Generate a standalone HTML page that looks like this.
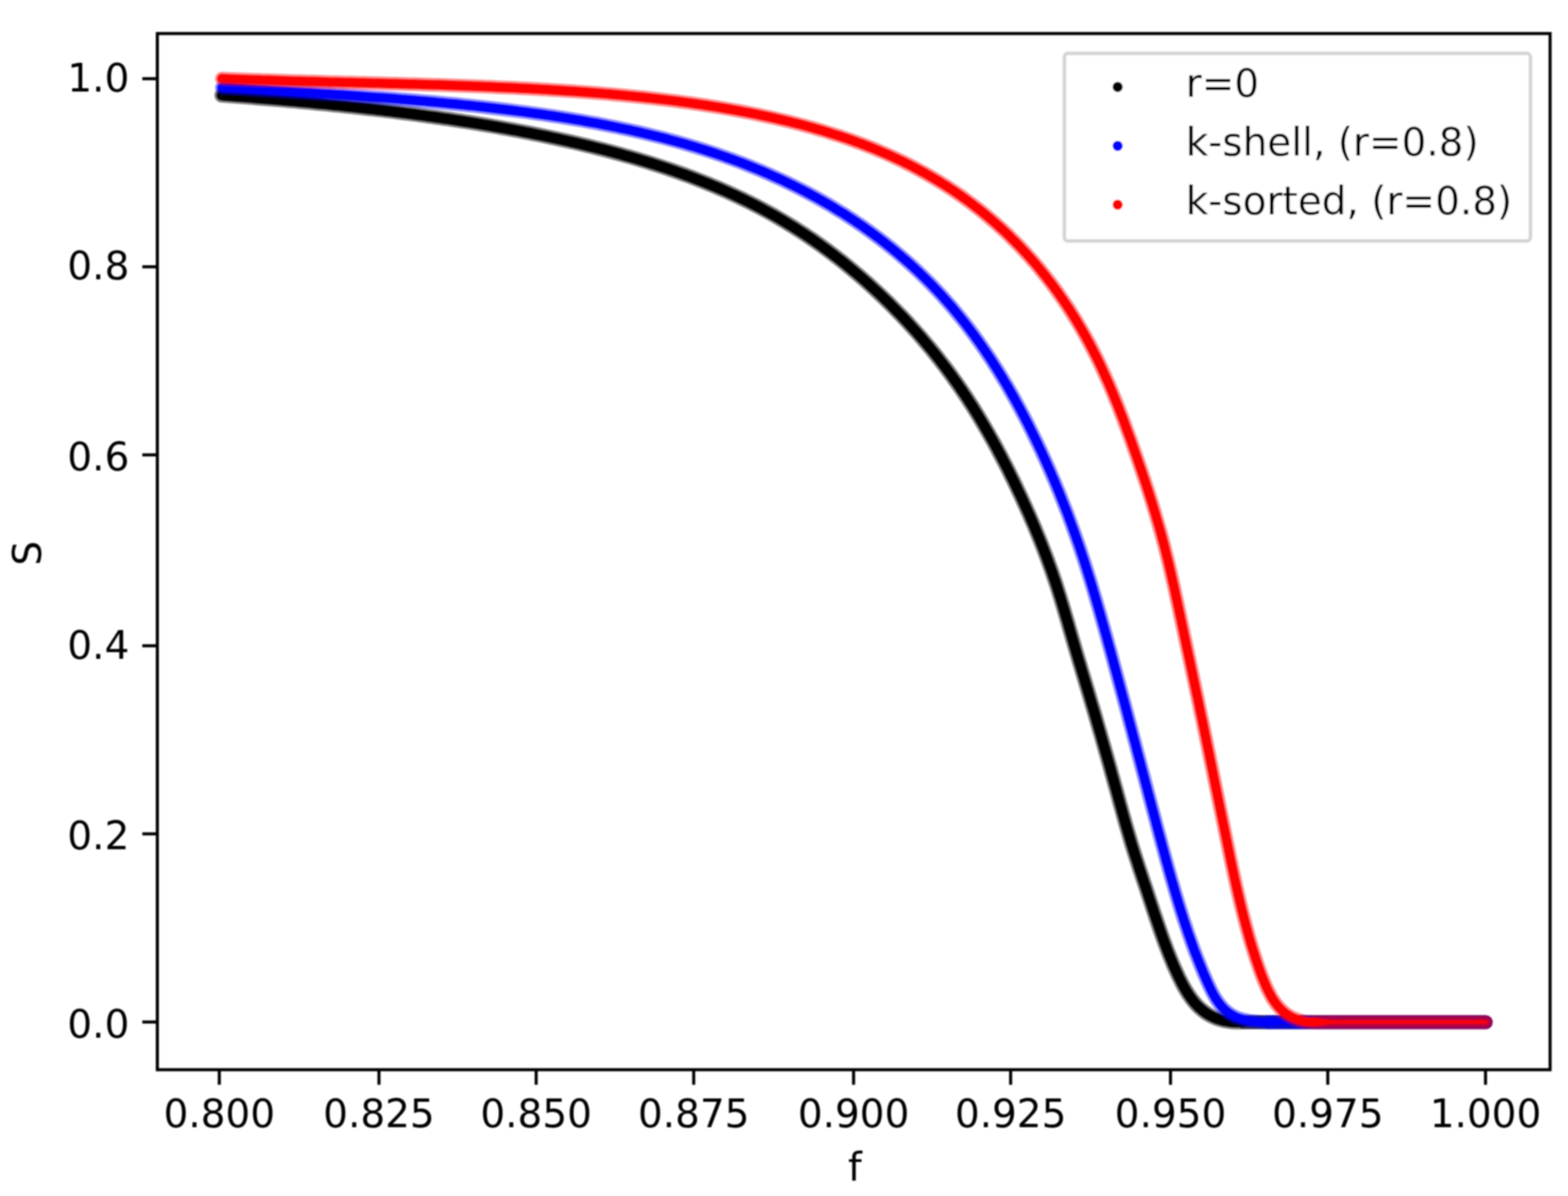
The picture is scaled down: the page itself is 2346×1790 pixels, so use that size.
<!DOCTYPE html>
<html lang="en"><head><meta charset="utf-8"><title>S vs f</title>
<style>
html,body{margin:0;padding:0;background:#fff;}
body{width:2346px;height:1790px;overflow:hidden;}
svg{display:block;}
text{font-family:"DejaVu Sans","Liberation Sans",sans-serif;font-size:58.3px;fill:#000;}
</style></head><body>
<svg width="2346" height="1790" viewBox="0 0 2346 1790">
<defs><filter id="soft" filterUnits="userSpaceOnUse" x="0" y="0" width="2346" height="1790"><feGaussianBlur stdDeviation="0.9"/></filter></defs>
<rect x="0" y="0" width="2346" height="1790" fill="#ffffff"/>
<g id="figure" filter="url(#soft)">
<g id="r0" fill="#000000" stroke="none">
<polyline fill="none" stroke="#000000" stroke-linejoin="round" stroke-width="22.0" stroke-opacity="0.5" points="331.8,142.6 338.4,143.1 344.9,143.6 351.5,144.1 358.1,144.6 364.7,145.1 371.2,145.6 377.8,146.1 384.3,146.7 390.9,147.2 397.4,147.7 403.9,148.3 410.5,148.8 417.0,149.4 423.5,149.9 430.0,150.5 436.5,151.1 443.0,151.6 449.5,152.2 455.9,152.8 462.4,153.4 468.9,154.0 475.3,154.7 481.8,155.3 488.2,155.9 494.6,156.6 501.0,157.2 507.5,157.9 513.9,158.5 520.3,159.2 526.6,159.9 533.0,160.6 539.4,161.3 545.8,162.0 552.1,162.7 558.5,163.4 564.8,164.2 571.1,164.9 577.4,165.7 583.7,166.4 590.0,167.2 596.3,168.0 602.6,168.8 608.9,169.6 615.1,170.4 621.4,171.2 627.6,172.1 633.8,172.9 640.1,173.8 646.3,174.6 652.5,175.5 658.6,176.4 664.8,177.3 671.0,178.2 677.1,179.1 683.3,180.1 689.4,181.0 695.5,182.0 701.6,182.9 707.7,183.9 713.8,184.9 719.8,185.9 725.9,186.9 731.9,187.9 738.0,189.0 744.0,190.0 750.0,191.1 756.0,192.2 762.0,193.3 767.9,194.4 773.9,195.5 779.8,196.6 785.8,197.8 791.7,198.9 797.6,200.1 803.5,201.3 809.3,202.5 815.2,203.7 821.0,204.9 826.9,206.2 832.7,207.4 838.5,208.7 844.3,210.0 850.0,211.3 855.8,212.6 861.5,213.9 867.3,215.2 873.0,216.6 878.7,218.0 884.4,219.4 890.0,220.8 895.7,222.2 901.3,223.6 906.9,225.1 912.5,226.6 918.1,228.1 923.6,229.6 929.2,231.1 934.7,232.7 940.2,234.2 945.7,235.8 951.2,237.4 956.6,239.0 962.0,240.7 967.5,242.3 972.9,244.0 978.2,245.7 983.6,247.4 988.9,249.2 994.2,250.9 999.5,252.7 1004.8,254.5 1010.0,256.3 1015.3,258.2 1020.5,260.0 1025.7,261.9 1030.8,263.8 1036.0,265.7 1041.1,267.7 1046.2,269.7 1051.3,271.7 1056.3,273.7 1061.3,275.7 1066.4,277.8 1071.3,279.9 1076.3,282.0 1081.2,284.1 1086.1,286.3 1091.0,288.5 1095.9,290.7 1100.7,292.9 1105.5,295.2 1110.3,297.5 1115.1,299.8 1119.8,302.1 1124.5,304.5 1129.2,306.8 1133.9,309.3 1138.5,311.7 1143.1,314.2 1147.7,316.7 1152.3,319.2 1156.8,321.7 1161.3,324.3 1165.8,326.9 1170.2,329.5 1174.6,332.1 1179.0,334.8 1183.4,337.5 1187.8,340.2 1192.1,343.0 1196.4,345.7 1200.7,348.5 1205.0,351.3 1209.2,354.2 1213.4,357.0 1217.6,359.9 1221.7,362.8 1225.9,365.7 1230.0,368.7 1234.1,371.7 1238.2,374.7 1242.2,377.7 1246.2,380.7 1250.2,383.8 1254.2,386.9 1258.2,390.0 1262.1,393.1 1266.0,396.3 1269.9,399.5 1273.8,402.7 1277.7,405.9 1281.5,409.1 1285.3,412.4 1289.1,415.7 1292.9,419.0 1296.6,422.3 1300.3,425.6 1304.0,429.0 1307.7,432.4 1311.4,435.8 1315.0,439.2 1318.7,442.7 1322.3,446.1 1325.9,449.6 1329.4,453.1 1333.0,456.6 1336.5,460.2 1340.0,463.7 1343.5,467.3 1347.0,470.9 1350.5,474.5 1353.9,478.1 1357.3,481.8 1360.7,485.5 1364.1,489.2 1367.4,492.9 1370.8,496.6 1374.1,500.4 1377.4,504.1 1380.7,507.9 1383.9,511.8 1387.2,515.6 1390.4,519.4 1393.6,523.3 1396.8,527.2 1399.9,531.1 1403.0,535.1 1406.1,539.0 1409.2,543.0 1412.3,547.0 1415.4,551.0 1418.4,555.1 1421.4,559.1 1424.4,563.2 1427.3,567.3 1430.3,571.5 1433.2,575.6 1436.1,579.8 1439.0,584.0 1441.8,588.2 1444.7,592.5 1447.5,596.7 1450.2,601.0 1453.0,605.3 1455.8,609.6 1458.5,614.0 1461.2,618.3 1463.9,622.7 1466.5,627.1 1469.2,631.6 1471.8,636.0 1474.4,640.5 1477.0,645.0 1479.6,649.5 1482.1,654.0 1484.7,658.5 1487.2,663.1 1489.7,667.6 1492.2,672.2 1494.6,676.8 1497.1,681.5 1499.5,686.1 1501.9,690.8 1504.3,695.4 1506.7,700.1 1509.1,704.8 1511.4,709.5 1513.7,714.3 1516.1,719.0 1518.4,723.8 1520.7,728.6 1522.9,733.4 1525.2,738.2 1527.5,743.0 1529.7,747.8 1531.9,752.7 1534.1,757.5 1536.3,762.4 1538.5,767.3 1540.7,772.2 1542.8,777.1 1545.0,782.1 1547.1,787.0 1549.2,792.0 1551.2,797.0 1553.3,802.0 1555.4,807.0 1557.4,812.1 1559.4,817.1 1561.4,822.2 1563.3,827.3 1565.3,832.4 1567.2,837.6 1569.1,842.8 1571.0,848.0 1572.9,853.2 1574.7,858.4 1576.5,863.7 1578.3,868.9 1580.1,874.2 1581.8,879.6 1583.5,884.9 1585.2,890.3 1586.9,895.7 1588.5,901.1 1590.2,906.6 1591.8,912.0 1593.4,917.5 1595.0,923.0 1596.6,928.4 1598.2,933.9 1599.7,939.4 1601.3,944.9 1602.9,950.4 1604.5,955.9 1606.1,961.4 1607.7,966.8 1609.3,972.3 1610.9,977.8 1612.5,983.2 1614.1,988.7 1615.8,994.1 1617.4,999.5 1619.0,1005.0 1620.6,1010.4 1622.3,1015.9 1623.9,1021.3 1625.5,1026.7 1627.2,1032.2 1628.8,1037.6 1630.4,1043.1 1632.0,1048.5 1633.6,1054.0 1635.3,1059.5 1636.9,1064.9 1638.5,1070.4 1640.1,1075.9 1641.6,1081.4 1643.2,1086.8 1644.8,1092.3 1646.4,1097.8 1648.0,1103.3 1649.5,1108.8 1651.1,1114.3 1652.7,1119.8 1654.2,1125.3 1655.8,1130.8 1657.4,1136.4 1658.9,1141.9 1660.5,1147.4 1662.0,1152.9 1663.5,1158.5 1665.1,1164.0 1666.6,1169.5 1668.1,1175.1 1669.7,1180.6 1671.2,1186.2 1672.7,1191.7 1674.2,1197.3 1675.7,1202.8 1677.3,1208.4 1678.8,1213.9 1680.3,1219.4 1681.9,1225.0 1683.4,1230.5 1685.0,1236.0 1686.6,1241.5 1688.2,1247.0 1689.8,1252.4 1691.4,1257.9 1693.0,1263.3 1694.7,1268.7 1696.4,1274.1 1698.1,1279.5 1699.8,1284.8 1701.6,1290.1 1703.3,1295.5 1705.0,1300.8 1706.8,1306.1 1708.6,1311.4 1710.3,1316.7 1712.1,1322.0 1713.9,1327.3 1715.7,1332.6 1717.4,1337.9 1719.2,1343.2 1720.9,1348.5 1722.7,1353.8 1724.5,1359.2 1726.2,1364.5 1728.0,1369.8 1729.8,1375.1 1731.6,1380.3 1733.4,1385.6 1735.2,1390.9 1737.0,1396.1 1738.9,1401.3 1740.7,1406.5 1742.6,1411.7 1744.6,1416.9 1746.5,1422.0 1748.5,1427.1 1750.5,1432.1 1752.6,1437.1 1754.6,1442.1 1756.8,1447.1 1759.0,1452.0 1761.2,1456.8 1763.4,1461.6 1765.8,1466.4 1768.1,1471.0 1770.6,1475.7 1773.2,1480.2 1775.8,1484.6 1778.6,1488.9 1781.5,1493.1 1784.5,1497.1 1787.7,1501.0 1791.1,1504.7 1794.6,1508.2 1798.4,1511.5 1802.4,1514.6 1806.6,1517.5 1811.0,1520.1 1815.8,1522.4 1820.8,1524.5 1826.1,1526.2 1831.7,1527.7 1837.7,1528.7 1844.1,1529.5 1850.0,1529.8 1856.0,1529.8"/>
<path fill-opacity="0.5" d="M330.96,153.61 A11.00,11.00 0 0 1 332.57,131.66 Z"/>
<polyline fill="none" stroke="#000000" stroke-linejoin="round" stroke-width="15.5" points="331.8,142.6 338.4,143.1 344.9,143.6 351.5,144.1 358.1,144.6 364.7,145.1 371.2,145.6 377.8,146.1 384.3,146.7 390.9,147.2 397.4,147.7 403.9,148.3 410.5,148.8 417.0,149.4 423.5,149.9 430.0,150.5 436.5,151.1 443.0,151.6 449.5,152.2 455.9,152.8 462.4,153.4 468.9,154.0 475.3,154.7 481.8,155.3 488.2,155.9 494.6,156.6 501.0,157.2 507.5,157.9 513.9,158.5 520.3,159.2 526.6,159.9 533.0,160.6 539.4,161.3 545.8,162.0 552.1,162.7 558.5,163.4 564.8,164.2 571.1,164.9 577.4,165.7 583.7,166.4 590.0,167.2 596.3,168.0 602.6,168.8 608.9,169.6 615.1,170.4 621.4,171.2 627.6,172.1 633.8,172.9 640.1,173.8 646.3,174.6 652.5,175.5 658.6,176.4 664.8,177.3 671.0,178.2 677.1,179.1 683.3,180.1 689.4,181.0 695.5,182.0 701.6,182.9 707.7,183.9 713.8,184.9 719.8,185.9 725.9,186.9 731.9,187.9 738.0,189.0 744.0,190.0 750.0,191.1 756.0,192.2 762.0,193.3 767.9,194.4 773.9,195.5 779.8,196.6 785.8,197.8 791.7,198.9 797.6,200.1 803.5,201.3 809.3,202.5 815.2,203.7 821.0,204.9 826.9,206.2 832.7,207.4 838.5,208.7 844.3,210.0 850.0,211.3 855.8,212.6 861.5,213.9 867.3,215.2 873.0,216.6 878.7,218.0 884.4,219.4 890.0,220.8 895.7,222.2 901.3,223.6 906.9,225.1 912.5,226.6 918.1,228.1 923.6,229.6 929.2,231.1 934.7,232.7 940.2,234.2 945.7,235.8 951.2,237.4 956.6,239.0 962.0,240.7 967.5,242.3 972.9,244.0 978.2,245.7 983.6,247.4 988.9,249.2 994.2,250.9 999.5,252.7 1004.8,254.5 1010.0,256.3 1015.3,258.2 1020.5,260.0 1025.7,261.9 1030.8,263.8 1036.0,265.7 1041.1,267.7 1046.2,269.7 1051.3,271.7 1056.3,273.7 1061.3,275.7 1066.4,277.8 1071.3,279.9 1076.3,282.0 1081.2,284.1 1086.1,286.3 1091.0,288.5 1095.9,290.7 1100.7,292.9 1105.5,295.2 1110.3,297.5 1115.1,299.8 1119.8,302.1 1124.5,304.5 1129.2,306.8 1133.9,309.3 1138.5,311.7 1143.1,314.2 1147.7,316.7 1152.3,319.2 1156.8,321.7 1161.3,324.3 1165.8,326.9 1170.2,329.5 1174.6,332.1 1179.0,334.8 1183.4,337.5 1187.8,340.2 1192.1,343.0 1196.4,345.7 1200.7,348.5 1205.0,351.3 1209.2,354.2 1213.4,357.0 1217.6,359.9 1221.7,362.8 1225.9,365.7 1230.0,368.7 1234.1,371.7 1238.2,374.7 1242.2,377.7 1246.2,380.7 1250.2,383.8 1254.2,386.9 1258.2,390.0 1262.1,393.1 1266.0,396.3 1269.9,399.5 1273.8,402.7 1277.7,405.9 1281.5,409.1 1285.3,412.4 1289.1,415.7 1292.9,419.0 1296.6,422.3 1300.3,425.6 1304.0,429.0 1307.7,432.4 1311.4,435.8 1315.0,439.2 1318.7,442.7 1322.3,446.1 1325.9,449.6 1329.4,453.1 1333.0,456.6 1336.5,460.2 1340.0,463.7 1343.5,467.3 1347.0,470.9 1350.5,474.5 1353.9,478.1 1357.3,481.8 1360.7,485.5 1364.1,489.2 1367.4,492.9 1370.8,496.6 1374.1,500.4 1377.4,504.1 1380.7,507.9 1383.9,511.8 1387.2,515.6 1390.4,519.4 1393.6,523.3 1396.8,527.2 1399.9,531.1 1403.0,535.1 1406.1,539.0 1409.2,543.0 1412.3,547.0 1415.4,551.0 1418.4,555.1 1421.4,559.1 1424.4,563.2 1427.3,567.3 1430.3,571.5 1433.2,575.6 1436.1,579.8 1439.0,584.0 1441.8,588.2 1444.7,592.5 1447.5,596.7 1450.2,601.0 1453.0,605.3 1455.8,609.6 1458.5,614.0 1461.2,618.3 1463.9,622.7 1466.5,627.1 1469.2,631.6 1471.8,636.0 1474.4,640.5 1477.0,645.0 1479.6,649.5 1482.1,654.0 1484.7,658.5 1487.2,663.1 1489.7,667.6 1492.2,672.2 1494.6,676.8 1497.1,681.5 1499.5,686.1 1501.9,690.8 1504.3,695.4 1506.7,700.1 1509.1,704.8 1511.4,709.5 1513.7,714.3 1516.1,719.0 1518.4,723.8 1520.7,728.6 1522.9,733.4 1525.2,738.2 1527.5,743.0 1529.7,747.8 1531.9,752.7 1534.1,757.5 1536.3,762.4 1538.5,767.3 1540.7,772.2 1542.8,777.1 1545.0,782.1 1547.1,787.0 1549.2,792.0 1551.2,797.0 1553.3,802.0 1555.4,807.0 1557.4,812.1 1559.4,817.1 1561.4,822.2 1563.3,827.3 1565.3,832.4 1567.2,837.6 1569.1,842.8 1571.0,848.0 1572.9,853.2 1574.7,858.4 1576.5,863.7 1578.3,868.9 1580.1,874.2 1581.8,879.6 1583.5,884.9 1585.2,890.3 1586.9,895.7 1588.5,901.1 1590.2,906.6 1591.8,912.0 1593.4,917.5 1595.0,923.0 1596.6,928.4 1598.2,933.9 1599.7,939.4 1601.3,944.9 1602.9,950.4 1604.5,955.9 1606.1,961.4 1607.7,966.8 1609.3,972.3 1610.9,977.8 1612.5,983.2 1614.1,988.7 1615.8,994.1 1617.4,999.5 1619.0,1005.0 1620.6,1010.4 1622.3,1015.9 1623.9,1021.3 1625.5,1026.7 1627.2,1032.2 1628.8,1037.6 1630.4,1043.1 1632.0,1048.5 1633.6,1054.0 1635.3,1059.5 1636.9,1064.9 1638.5,1070.4 1640.1,1075.9 1641.6,1081.4 1643.2,1086.8 1644.8,1092.3 1646.4,1097.8 1648.0,1103.3 1649.5,1108.8 1651.1,1114.3 1652.7,1119.8 1654.2,1125.3 1655.8,1130.8 1657.4,1136.4 1658.9,1141.9 1660.5,1147.4 1662.0,1152.9 1663.5,1158.5 1665.1,1164.0 1666.6,1169.5 1668.1,1175.1 1669.7,1180.6 1671.2,1186.2 1672.7,1191.7 1674.2,1197.3 1675.7,1202.8 1677.3,1208.4 1678.8,1213.9 1680.3,1219.4 1681.9,1225.0 1683.4,1230.5 1685.0,1236.0 1686.6,1241.5 1688.2,1247.0 1689.8,1252.4 1691.4,1257.9 1693.0,1263.3 1694.7,1268.7 1696.4,1274.1 1698.1,1279.5 1699.8,1284.8 1701.6,1290.1 1703.3,1295.5 1705.0,1300.8 1706.8,1306.1 1708.6,1311.4 1710.3,1316.7 1712.1,1322.0 1713.9,1327.3 1715.7,1332.6 1717.4,1337.9 1719.2,1343.2 1720.9,1348.5 1722.7,1353.8 1724.5,1359.2 1726.2,1364.5 1728.0,1369.8 1729.8,1375.1 1731.6,1380.3 1733.4,1385.6 1735.2,1390.9 1737.0,1396.1 1738.9,1401.3 1740.7,1406.5 1742.6,1411.7 1744.6,1416.9 1746.5,1422.0 1748.5,1427.1 1750.5,1432.1 1752.6,1437.1 1754.6,1442.1 1756.8,1447.1 1759.0,1452.0 1761.2,1456.8 1763.4,1461.6 1765.8,1466.4 1768.1,1471.0 1770.6,1475.7 1773.2,1480.2 1775.8,1484.6 1778.6,1488.9 1781.5,1493.1 1784.5,1497.1 1787.7,1501.0 1791.1,1504.7 1794.6,1508.2 1798.4,1511.5 1802.4,1514.6 1806.6,1517.5 1811.0,1520.1 1815.8,1522.4 1820.8,1524.5 1826.1,1526.2 1831.7,1527.7 1837.7,1528.7 1844.1,1529.5 1850.0,1529.8 1856.0,1529.8"/>
<path d="M331.20,150.36 A7.75,7.75 0 0 1 332.33,134.91 Z"/>
<path fill-opacity="0.8" d="M1856.0,1519.40 L2223.0,1519.40 A10.40,10.40 0 0 1 2223.0,1540.20 L1856.0,1540.20 Z"/>
<path fill-opacity="0.45" d="M1856.0,1523.50 L2223.0,1523.50 A6.30,6.30 0 0 1 2223.0,1536.10 L1856.0,1536.10 Z"/>
<path d="M1856.0,1522.05 L1884.0,1527.60 L2223.0,1527.60 A2.20,2.20 0 0 1 2223.0,1532.00 L1884.0,1532.00 L1856.0,1537.55 Z"/>
</g>
<g id="kshell" fill="#0000ff" stroke="none">
<polyline fill="none" stroke="#0000ff" stroke-linejoin="round" stroke-width="20.5" stroke-opacity="0.45" points="331.8,131.0 338.5,131.4 345.2,131.8 351.8,132.2 358.5,132.6 365.2,133.0 371.8,133.4 378.5,133.8 385.2,134.2 391.8,134.6 398.5,135.0 405.2,135.4 411.8,135.8 418.5,136.2 425.2,136.6 431.8,137.1 438.5,137.5 445.1,137.9 451.8,138.3 458.4,138.7 465.1,139.1 471.7,139.5 478.4,140.0 485.0,140.4 491.7,140.8 498.3,141.3 504.9,141.7 511.6,142.1 518.2,142.6 524.8,143.0 531.4,143.5 538.0,144.0 544.7,144.4 551.3,144.9 557.8,145.4 564.4,145.9 571.0,146.3 577.6,146.8 584.2,147.3 590.7,147.8 597.3,148.4 603.8,148.9 610.4,149.4 616.9,150.0 623.4,150.5 629.9,151.1 636.4,151.6 642.9,152.2 649.4,152.8 655.9,153.4 662.4,154.0 668.9,154.6 675.3,155.2 681.7,155.8 688.2,156.5 694.6,157.1 701.0,157.8 707.4,158.4 713.8,159.1 720.2,159.8 726.5,160.5 732.9,161.2 739.2,162.0 745.6,162.7 751.9,163.5 758.2,164.2 764.5,165.0 770.8,165.8 777.0,166.6 783.3,167.4 789.5,168.2 795.8,169.1 802.0,170.0 808.2,170.8 814.3,171.7 820.5,172.6 826.7,173.5 832.8,174.5 838.9,175.4 845.0,176.4 851.1,177.4 857.2,178.4 863.2,179.4 869.3,180.4 875.3,181.5 881.3,182.6 887.3,183.6 893.2,184.7 899.2,185.9 905.1,187.0 911.0,188.2 916.9,189.3 922.8,190.5 928.7,191.8 934.5,193.0 940.3,194.2 946.1,195.5 951.9,196.8 957.6,198.1 963.4,199.5 969.1,200.8 974.8,202.2 980.5,203.6 986.1,205.0 991.7,206.4 997.4,207.9 1002.9,209.4 1008.5,210.9 1014.0,212.4 1019.6,214.0 1025.1,215.6 1030.5,217.2 1036.0,218.8 1041.4,220.4 1046.8,222.1 1052.2,223.8 1057.6,225.5 1062.9,227.2 1068.2,229.0 1073.5,230.8 1078.7,232.6 1084.0,234.4 1089.2,236.3 1094.4,238.2 1099.6,240.1 1104.7,242.0 1109.8,243.9 1114.9,245.9 1120.0,247.9 1125.0,249.9 1130.1,252.0 1135.1,254.1 1140.0,256.1 1145.0,258.3 1149.9,260.4 1154.8,262.6 1159.7,264.8 1164.6,267.0 1169.4,269.2 1174.2,271.5 1179.0,273.8 1183.7,276.1 1188.5,278.4 1193.2,280.8 1197.9,283.2 1202.5,285.6 1207.2,288.0 1211.8,290.5 1216.4,292.9 1221.0,295.4 1225.5,298.0 1230.0,300.5 1234.5,303.1 1239.0,305.7 1243.4,308.3 1247.8,311.0 1252.2,313.7 1256.6,316.4 1261.0,319.1 1265.3,321.8 1269.6,324.6 1273.8,327.4 1278.1,330.2 1282.3,333.1 1286.5,335.9 1290.7,338.8 1294.8,341.8 1299.0,344.7 1303.1,347.7 1307.1,350.7 1311.2,353.7 1315.2,356.7 1319.2,359.8 1323.2,362.9 1327.1,366.0 1331.1,369.2 1335.0,372.3 1338.8,375.5 1342.7,378.8 1346.5,382.0 1350.3,385.3 1354.1,388.6 1357.8,391.9 1361.6,395.2 1365.3,398.6 1368.9,402.0 1372.6,405.4 1376.2,408.9 1379.8,412.4 1383.4,415.8 1386.9,419.4 1390.5,422.9 1394.0,426.5 1397.4,430.1 1400.9,433.7 1404.3,437.4 1407.7,441.0 1411.1,444.7 1414.4,448.5 1417.7,452.2 1421.0,456.0 1424.3,459.8 1427.5,463.6 1430.7,467.5 1433.9,471.4 1437.1,475.3 1440.2,479.2 1443.4,483.2 1446.4,487.1 1449.5,491.1 1452.6,495.2 1455.6,499.2 1458.6,503.3 1461.5,507.4 1464.5,511.5 1467.4,515.7 1470.3,519.8 1473.2,524.0 1476.0,528.2 1478.9,532.5 1481.7,536.7 1484.5,541.0 1487.2,545.3 1490.0,549.7 1492.7,554.0 1495.4,558.4 1498.1,562.7 1500.8,567.2 1503.4,571.6 1506.1,576.0 1508.7,580.5 1511.2,585.0 1513.8,589.5 1516.4,594.0 1518.9,598.5 1521.4,603.1 1523.9,607.7 1526.4,612.3 1528.8,616.9 1531.3,621.5 1533.7,626.2 1536.1,630.9 1538.5,635.5 1540.8,640.2 1543.2,645.0 1545.5,649.7 1547.8,654.4 1550.1,659.2 1552.4,664.0 1554.7,668.8 1557.0,673.6 1559.2,678.4 1561.4,683.3 1563.6,688.1 1565.8,693.0 1568.0,697.9 1570.2,702.8 1572.3,707.7 1574.4,712.7 1576.6,717.6 1578.7,722.6 1580.7,727.6 1582.8,732.6 1584.9,737.6 1586.9,742.7 1588.9,747.7 1590.9,752.8 1592.9,757.9 1594.9,763.0 1596.9,768.1 1598.8,773.2 1600.7,778.3 1602.6,783.5 1604.5,788.7 1606.4,793.9 1608.3,799.1 1610.1,804.3 1611.9,809.5 1613.8,814.8 1615.6,820.1 1617.3,825.3 1619.1,830.7 1620.9,836.0 1622.6,841.3 1624.3,846.7 1626.0,852.0 1627.7,857.4 1629.4,862.8 1631.1,868.2 1632.7,873.6 1634.4,879.0 1636.0,884.5 1637.6,889.9 1639.2,895.4 1640.8,900.9 1642.4,906.4 1644.0,911.8 1645.6,917.3 1647.1,922.8 1648.7,928.4 1650.2,933.9 1651.8,939.4 1653.3,944.9 1654.9,950.5 1656.4,956.0 1657.9,961.6 1659.4,967.1 1661.0,972.6 1662.5,978.2 1664.0,983.8 1665.5,989.3 1667.0,994.9 1668.5,1000.4 1670.0,1006.0 1671.5,1011.6 1673.0,1017.1 1674.5,1022.7 1676.0,1028.3 1677.5,1033.9 1679.0,1039.4 1680.5,1045.0 1682.0,1050.6 1683.5,1056.2 1685.0,1061.8 1686.5,1067.4 1687.9,1072.9 1689.4,1078.5 1690.9,1084.1 1692.4,1089.7 1693.9,1095.3 1695.3,1100.9 1696.8,1106.5 1698.3,1112.1 1699.8,1117.7 1701.2,1123.3 1702.7,1128.9 1704.2,1134.5 1705.7,1140.1 1707.1,1145.7 1708.6,1151.3 1710.1,1156.9 1711.6,1162.5 1713.0,1168.1 1714.5,1173.7 1716.0,1179.3 1717.4,1184.9 1718.9,1190.5 1720.4,1196.1 1721.9,1201.7 1723.3,1207.3 1724.8,1212.8 1726.3,1218.4 1727.8,1224.0 1729.3,1229.6 1730.7,1235.2 1732.2,1240.8 1733.7,1246.4 1735.2,1252.0 1736.7,1257.6 1738.2,1263.1 1739.7,1268.7 1741.2,1274.3 1742.7,1279.8 1744.2,1285.4 1745.7,1290.9 1747.3,1296.5 1748.8,1302.0 1750.4,1307.5 1751.9,1313.0 1753.5,1318.5 1755.1,1324.0 1756.7,1329.5 1758.3,1335.0 1759.9,1340.4 1761.5,1345.9 1763.2,1351.3 1764.8,1356.7 1766.5,1362.1 1768.2,1367.5 1769.9,1372.8 1771.6,1378.2 1773.4,1383.5 1775.2,1388.8 1776.9,1394.1 1778.7,1399.3 1780.6,1404.6 1782.4,1409.8 1784.3,1415.0 1786.2,1420.2 1788.1,1425.3 1790.1,1430.4 1792.1,1435.5 1794.1,1440.6 1796.1,1445.6 1798.2,1450.6 1800.2,1455.6 1802.4,1460.6 1804.5,1465.5 1806.7,1470.4 1808.9,1475.3 1811.2,1480.1 1813.5,1484.8 1816.0,1489.4 1818.6,1493.8 1821.4,1498.1 1824.4,1502.2 1827.6,1506.1 1831.0,1509.8 1834.6,1513.1 1838.6,1516.3 1842.9,1519.0 1847.5,1521.5 1852.5,1523.6 1857.8,1525.3 1863.5,1526.7 1869.5,1527.8 1875.8,1528.6 1882.2,1529.3 1888.0,1529.8 1894.0,1529.8"/>
<path fill-opacity="0.45" d="M331.21,141.19 A10.25,10.25 0 0 1 332.47,120.73 Z"/>
<polyline fill="none" stroke="#0000ff" stroke-linejoin="round" stroke-width="13.5" points="331.8,131.0 338.5,131.4 345.2,131.8 351.8,132.2 358.5,132.6 365.2,133.0 371.8,133.4 378.5,133.8 385.2,134.2 391.8,134.6 398.5,135.0 405.2,135.4 411.8,135.8 418.5,136.2 425.2,136.6 431.8,137.1 438.5,137.5 445.1,137.9 451.8,138.3 458.4,138.7 465.1,139.1 471.7,139.5 478.4,140.0 485.0,140.4 491.7,140.8 498.3,141.3 504.9,141.7 511.6,142.1 518.2,142.6 524.8,143.0 531.4,143.5 538.0,144.0 544.7,144.4 551.3,144.9 557.8,145.4 564.4,145.9 571.0,146.3 577.6,146.8 584.2,147.3 590.7,147.8 597.3,148.4 603.8,148.9 610.4,149.4 616.9,150.0 623.4,150.5 629.9,151.1 636.4,151.6 642.9,152.2 649.4,152.8 655.9,153.4 662.4,154.0 668.9,154.6 675.3,155.2 681.7,155.8 688.2,156.5 694.6,157.1 701.0,157.8 707.4,158.4 713.8,159.1 720.2,159.8 726.5,160.5 732.9,161.2 739.2,162.0 745.6,162.7 751.9,163.5 758.2,164.2 764.5,165.0 770.8,165.8 777.0,166.6 783.3,167.4 789.5,168.2 795.8,169.1 802.0,170.0 808.2,170.8 814.3,171.7 820.5,172.6 826.7,173.5 832.8,174.5 838.9,175.4 845.0,176.4 851.1,177.4 857.2,178.4 863.2,179.4 869.3,180.4 875.3,181.5 881.3,182.6 887.3,183.6 893.2,184.7 899.2,185.9 905.1,187.0 911.0,188.2 916.9,189.3 922.8,190.5 928.7,191.8 934.5,193.0 940.3,194.2 946.1,195.5 951.9,196.8 957.6,198.1 963.4,199.5 969.1,200.8 974.8,202.2 980.5,203.6 986.1,205.0 991.7,206.4 997.4,207.9 1002.9,209.4 1008.5,210.9 1014.0,212.4 1019.6,214.0 1025.1,215.6 1030.5,217.2 1036.0,218.8 1041.4,220.4 1046.8,222.1 1052.2,223.8 1057.6,225.5 1062.9,227.2 1068.2,229.0 1073.5,230.8 1078.7,232.6 1084.0,234.4 1089.2,236.3 1094.4,238.2 1099.6,240.1 1104.7,242.0 1109.8,243.9 1114.9,245.9 1120.0,247.9 1125.0,249.9 1130.1,252.0 1135.1,254.1 1140.0,256.1 1145.0,258.3 1149.9,260.4 1154.8,262.6 1159.7,264.8 1164.6,267.0 1169.4,269.2 1174.2,271.5 1179.0,273.8 1183.7,276.1 1188.5,278.4 1193.2,280.8 1197.9,283.2 1202.5,285.6 1207.2,288.0 1211.8,290.5 1216.4,292.9 1221.0,295.4 1225.5,298.0 1230.0,300.5 1234.5,303.1 1239.0,305.7 1243.4,308.3 1247.8,311.0 1252.2,313.7 1256.6,316.4 1261.0,319.1 1265.3,321.8 1269.6,324.6 1273.8,327.4 1278.1,330.2 1282.3,333.1 1286.5,335.9 1290.7,338.8 1294.8,341.8 1299.0,344.7 1303.1,347.7 1307.1,350.7 1311.2,353.7 1315.2,356.7 1319.2,359.8 1323.2,362.9 1327.1,366.0 1331.1,369.2 1335.0,372.3 1338.8,375.5 1342.7,378.8 1346.5,382.0 1350.3,385.3 1354.1,388.6 1357.8,391.9 1361.6,395.2 1365.3,398.6 1368.9,402.0 1372.6,405.4 1376.2,408.9 1379.8,412.4 1383.4,415.8 1386.9,419.4 1390.5,422.9 1394.0,426.5 1397.4,430.1 1400.9,433.7 1404.3,437.4 1407.7,441.0 1411.1,444.7 1414.4,448.5 1417.7,452.2 1421.0,456.0 1424.3,459.8 1427.5,463.6 1430.7,467.5 1433.9,471.4 1437.1,475.3 1440.2,479.2 1443.4,483.2 1446.4,487.1 1449.5,491.1 1452.6,495.2 1455.6,499.2 1458.6,503.3 1461.5,507.4 1464.5,511.5 1467.4,515.7 1470.3,519.8 1473.2,524.0 1476.0,528.2 1478.9,532.5 1481.7,536.7 1484.5,541.0 1487.2,545.3 1490.0,549.7 1492.7,554.0 1495.4,558.4 1498.1,562.7 1500.8,567.2 1503.4,571.6 1506.1,576.0 1508.7,580.5 1511.2,585.0 1513.8,589.5 1516.4,594.0 1518.9,598.5 1521.4,603.1 1523.9,607.7 1526.4,612.3 1528.8,616.9 1531.3,621.5 1533.7,626.2 1536.1,630.9 1538.5,635.5 1540.8,640.2 1543.2,645.0 1545.5,649.7 1547.8,654.4 1550.1,659.2 1552.4,664.0 1554.7,668.8 1557.0,673.6 1559.2,678.4 1561.4,683.3 1563.6,688.1 1565.8,693.0 1568.0,697.9 1570.2,702.8 1572.3,707.7 1574.4,712.7 1576.6,717.6 1578.7,722.6 1580.7,727.6 1582.8,732.6 1584.9,737.6 1586.9,742.7 1588.9,747.7 1590.9,752.8 1592.9,757.9 1594.9,763.0 1596.9,768.1 1598.8,773.2 1600.7,778.3 1602.6,783.5 1604.5,788.7 1606.4,793.9 1608.3,799.1 1610.1,804.3 1611.9,809.5 1613.8,814.8 1615.6,820.1 1617.3,825.3 1619.1,830.7 1620.9,836.0 1622.6,841.3 1624.3,846.7 1626.0,852.0 1627.7,857.4 1629.4,862.8 1631.1,868.2 1632.7,873.6 1634.4,879.0 1636.0,884.5 1637.6,889.9 1639.2,895.4 1640.8,900.9 1642.4,906.4 1644.0,911.8 1645.6,917.3 1647.1,922.8 1648.7,928.4 1650.2,933.9 1651.8,939.4 1653.3,944.9 1654.9,950.5 1656.4,956.0 1657.9,961.6 1659.4,967.1 1661.0,972.6 1662.5,978.2 1664.0,983.8 1665.5,989.3 1667.0,994.9 1668.5,1000.4 1670.0,1006.0 1671.5,1011.6 1673.0,1017.1 1674.5,1022.7 1676.0,1028.3 1677.5,1033.9 1679.0,1039.4 1680.5,1045.0 1682.0,1050.6 1683.5,1056.2 1685.0,1061.8 1686.5,1067.4 1687.9,1072.9 1689.4,1078.5 1690.9,1084.1 1692.4,1089.7 1693.9,1095.3 1695.3,1100.9 1696.8,1106.5 1698.3,1112.1 1699.8,1117.7 1701.2,1123.3 1702.7,1128.9 1704.2,1134.5 1705.7,1140.1 1707.1,1145.7 1708.6,1151.3 1710.1,1156.9 1711.6,1162.5 1713.0,1168.1 1714.5,1173.7 1716.0,1179.3 1717.4,1184.9 1718.9,1190.5 1720.4,1196.1 1721.9,1201.7 1723.3,1207.3 1724.8,1212.8 1726.3,1218.4 1727.8,1224.0 1729.3,1229.6 1730.7,1235.2 1732.2,1240.8 1733.7,1246.4 1735.2,1252.0 1736.7,1257.6 1738.2,1263.1 1739.7,1268.7 1741.2,1274.3 1742.7,1279.8 1744.2,1285.4 1745.7,1290.9 1747.3,1296.5 1748.8,1302.0 1750.4,1307.5 1751.9,1313.0 1753.5,1318.5 1755.1,1324.0 1756.7,1329.5 1758.3,1335.0 1759.9,1340.4 1761.5,1345.9 1763.2,1351.3 1764.8,1356.7 1766.5,1362.1 1768.2,1367.5 1769.9,1372.8 1771.6,1378.2 1773.4,1383.5 1775.2,1388.8 1776.9,1394.1 1778.7,1399.3 1780.6,1404.6 1782.4,1409.8 1784.3,1415.0 1786.2,1420.2 1788.1,1425.3 1790.1,1430.4 1792.1,1435.5 1794.1,1440.6 1796.1,1445.6 1798.2,1450.6 1800.2,1455.6 1802.4,1460.6 1804.5,1465.5 1806.7,1470.4 1808.9,1475.3 1811.2,1480.1 1813.5,1484.8 1816.0,1489.4 1818.6,1493.8 1821.4,1498.1 1824.4,1502.2 1827.6,1506.1 1831.0,1509.8 1834.6,1513.1 1838.6,1516.3 1842.9,1519.0 1847.5,1521.5 1852.5,1523.6 1857.8,1525.3 1863.5,1526.7 1869.5,1527.8 1875.8,1528.6 1882.2,1529.3 1888.0,1529.8 1894.0,1529.8"/>
<path d="M331.43,137.70 A6.75,6.75 0 0 1 332.26,124.22 Z"/>
<path fill-opacity="0.75" d="M1894.0,1519.40 L2223.0,1519.40 A10.40,10.40 0 0 1 2223.0,1540.20 L1894.0,1540.20 Z"/>
<path fill-opacity="0.45" d="M1894.0,1523.50 L2223.0,1523.50 A6.30,6.30 0 0 1 2223.0,1536.10 L1894.0,1536.10 Z"/>
<path d="M1894.0,1523.05 L1922.0,1527.60 L2223.0,1527.60 A2.20,2.20 0 0 1 2223.0,1532.00 L1922.0,1532.00 L1894.0,1536.55 Z"/>
</g>
<g id="ksorted" fill="#ff0000" stroke="none">
<polyline fill="none" stroke="#ff0000" stroke-linejoin="round" stroke-width="20.5" stroke-opacity="0.45" points="331.8,117.6 338.6,117.9 345.4,118.2 352.2,118.4 359.0,118.7 365.8,118.9 372.7,119.2 379.5,119.4 386.3,119.6 393.2,119.9 400.0,120.1 406.9,120.3 413.7,120.5 420.6,120.7 427.4,121.0 434.3,121.2 441.2,121.4 448.1,121.5 454.9,121.7 461.8,121.9 468.7,122.1 475.6,122.3 482.5,122.5 489.4,122.7 496.3,122.9 503.1,123.0 510.0,123.2 516.9,123.4 523.8,123.6 530.7,123.7 537.6,123.9 544.5,124.1 551.4,124.3 558.3,124.4 565.2,124.6 572.1,124.8 579.0,125.0 585.9,125.2 592.8,125.3 599.6,125.5 606.5,125.7 613.4,125.9 620.3,126.1 627.2,126.3 634.0,126.5 640.9,126.7 647.8,126.9 654.6,127.1 661.5,127.3 668.3,127.6 675.2,127.8 682.0,128.0 688.8,128.3 695.7,128.5 702.5,128.7 709.3,129.0 716.1,129.3 722.9,129.5 729.7,129.8 736.5,130.1 743.3,130.4 750.1,130.7 756.8,131.0 763.6,131.3 770.4,131.6 777.1,131.9 783.8,132.3 790.6,132.6 797.3,133.0 804.0,133.3 810.7,133.7 817.4,134.1 824.0,134.5 830.7,134.9 837.4,135.3 844.0,135.7 850.6,136.2 857.3,136.6 863.9,137.1 870.5,137.5 877.1,138.0 883.6,138.5 890.2,139.0 896.7,139.5 903.3,140.1 909.8,140.6 916.3,141.2 922.8,141.8 929.3,142.4 935.8,143.0 942.2,143.6 948.6,144.2 955.1,144.9 961.5,145.5 967.9,146.2 974.2,146.9 980.6,147.6 986.9,148.4 993.3,149.1 999.6,149.9 1005.9,150.6 1012.1,151.4 1018.4,152.3 1024.6,153.1 1030.8,153.9 1037.0,154.8 1043.2,155.7 1049.4,156.6 1055.5,157.5 1061.7,158.5 1067.8,159.4 1073.9,160.4 1079.9,161.4 1086.0,162.5 1092.0,163.5 1098.0,164.6 1104.0,165.7 1110.0,166.8 1115.9,167.9 1121.8,169.0 1127.7,170.2 1133.6,171.4 1139.4,172.6 1145.3,173.9 1151.1,175.1 1156.9,176.4 1162.6,177.7 1168.4,179.1 1174.1,180.4 1179.8,181.8 1185.4,183.2 1191.1,184.6 1196.7,186.1 1202.3,187.6 1207.8,189.1 1213.4,190.6 1218.9,192.2 1224.4,193.8 1229.8,195.4 1235.3,197.0 1240.7,198.7 1246.0,200.4 1251.4,202.1 1256.7,203.8 1262.0,205.6 1267.3,207.4 1272.5,209.2 1277.7,211.1 1282.9,213.0 1288.1,214.9 1293.2,216.9 1298.3,218.8 1303.4,220.8 1308.4,222.9 1313.4,225.0 1318.4,227.1 1323.3,229.2 1328.2,231.3 1333.1,233.5 1337.9,235.8 1342.8,238.0 1347.5,240.3 1352.3,242.6 1357.0,245.0 1361.7,247.3 1366.4,249.7 1371.0,252.2 1375.6,254.7 1380.2,257.2 1384.7,259.7 1389.2,262.3 1393.7,264.9 1398.1,267.5 1402.5,270.1 1406.9,272.8 1411.3,275.6 1415.6,278.3 1419.9,281.1 1424.2,283.9 1428.4,286.7 1432.6,289.6 1436.8,292.5 1440.9,295.4 1445.0,298.4 1449.1,301.4 1453.1,304.4 1457.1,307.5 1461.1,310.6 1465.1,313.7 1469.0,316.8 1472.9,320.0 1476.8,323.2 1480.6,326.4 1484.4,329.7 1488.2,333.0 1492.0,336.3 1495.7,339.7 1499.4,343.0 1503.0,346.4 1506.7,349.9 1510.3,353.4 1513.8,356.9 1517.4,360.4 1520.9,363.9 1524.4,367.5 1527.8,371.1 1531.3,374.8 1534.7,378.5 1538.0,382.2 1541.4,385.9 1544.7,389.7 1548.0,393.4 1551.2,397.3 1554.4,401.1 1557.6,405.0 1560.8,408.9 1563.9,412.8 1567.0,416.8 1570.1,420.8 1573.2,424.8 1576.2,428.8 1579.2,432.9 1582.2,437.0 1585.1,441.2 1588.0,445.3 1590.9,449.5 1593.7,453.7 1596.6,458.0 1599.4,462.2 1602.1,466.5 1604.9,470.9 1607.6,475.2 1610.3,479.6 1612.9,484.0 1615.6,488.5 1618.2,492.9 1620.7,497.4 1623.3,501.9 1625.8,506.5 1628.3,511.1 1630.8,515.7 1633.2,520.3 1635.6,525.0 1638.0,529.7 1640.4,534.4 1642.7,539.1 1645.0,543.9 1647.3,548.7 1649.5,553.5 1651.7,558.4 1653.9,563.2 1656.1,568.1 1658.3,573.0 1660.4,578.0 1662.5,582.9 1664.6,587.9 1666.7,592.9 1668.7,597.9 1670.8,603.0 1672.8,608.0 1674.8,613.1 1676.7,618.2 1678.7,623.3 1680.7,628.4 1682.6,633.6 1684.5,638.7 1686.4,643.9 1688.3,649.1 1690.2,654.3 1692.1,659.4 1693.9,664.7 1695.8,669.9 1697.6,675.1 1699.5,680.3 1701.3,685.6 1703.1,690.8 1704.9,696.1 1706.7,701.3 1708.5,706.6 1710.3,711.9 1712.1,717.2 1713.9,722.5 1715.6,727.8 1717.4,733.2 1719.1,738.5 1720.8,743.9 1722.5,749.2 1724.2,754.6 1725.8,760.0 1727.5,765.4 1729.1,770.9 1730.7,776.3 1732.3,781.8 1733.9,787.3 1735.5,792.8 1737.0,798.4 1738.5,803.9 1740.0,809.5 1741.5,815.1 1742.9,820.7 1744.3,826.4 1745.7,832.0 1747.1,837.7 1748.5,843.4 1749.8,849.2 1751.2,854.9 1752.5,860.6 1753.8,866.4 1755.1,872.2 1756.4,878.0 1757.7,883.8 1758.9,889.6 1760.2,895.4 1761.4,901.2 1762.7,907.1 1763.9,912.9 1765.1,918.7 1766.4,924.6 1767.6,930.4 1768.8,936.2 1770.1,942.1 1771.3,947.9 1772.5,953.8 1773.8,959.6 1775.0,965.4 1776.2,971.3 1777.5,977.1 1778.7,982.9 1780.0,988.7 1781.2,994.6 1782.4,1000.4 1783.7,1006.2 1784.9,1012.1 1786.1,1017.9 1787.4,1023.8 1788.6,1029.6 1789.8,1035.4 1791.1,1041.3 1792.3,1047.1 1793.5,1053.0 1794.7,1058.8 1795.9,1064.7 1797.1,1070.6 1798.4,1076.4 1799.6,1082.3 1800.8,1088.1 1802.0,1094.0 1803.2,1099.9 1804.4,1105.7 1805.6,1111.6 1806.8,1117.5 1808.0,1123.4 1809.2,1129.2 1810.4,1135.1 1811.6,1141.0 1812.8,1146.9 1814.0,1152.7 1815.1,1158.6 1816.3,1164.5 1817.5,1170.4 1818.7,1176.3 1819.9,1182.1 1821.1,1188.0 1822.3,1193.9 1823.5,1199.8 1824.7,1205.7 1825.9,1211.5 1827.1,1217.4 1828.3,1223.3 1829.5,1229.2 1830.7,1235.0 1831.9,1240.9 1833.1,1246.8 1834.3,1252.7 1835.5,1258.5 1836.7,1264.4 1837.9,1270.3 1839.1,1276.1 1840.3,1282.0 1841.5,1287.8 1842.7,1293.7 1844.0,1299.5 1845.2,1305.3 1846.5,1311.2 1847.7,1317.0 1849.0,1322.8 1850.3,1328.5 1851.6,1334.3 1852.9,1340.1 1854.3,1345.8 1855.6,1351.5 1857.0,1357.2 1858.4,1362.9 1859.8,1368.5 1861.2,1374.2 1862.7,1379.8 1864.2,1385.4 1865.7,1391.0 1867.2,1396.5 1868.7,1402.0 1870.3,1407.5 1871.9,1413.0 1873.6,1418.4 1875.3,1423.8 1877.0,1429.1 1878.7,1434.5 1880.5,1439.8 1882.3,1445.0 1884.1,1450.3 1886.0,1455.4 1887.9,1460.6 1889.9,1465.7 1892.0,1470.7 1894.1,1475.7 1896.3,1480.5 1898.7,1485.2 1901.1,1489.8 1903.7,1494.3 1906.5,1498.6 1909.5,1502.7 1912.7,1506.6 1916.1,1510.3 1919.7,1513.7 1923.6,1516.9 1927.8,1519.7 1932.3,1522.3 1937.1,1524.5 1942.3,1526.4 1947.9,1528.0 1953.8,1529.1 1960.0,1529.8 1966.0,1529.8"/>
<path fill-opacity="0.45" d="M331.38,127.84 A10.25,10.25 0 0 1 332.22,107.36 Z"/>
<polyline fill="none" stroke="#ff0000" stroke-linejoin="round" stroke-width="13.5" points="331.8,117.6 338.6,117.9 345.4,118.2 352.2,118.4 359.0,118.7 365.8,118.9 372.7,119.2 379.5,119.4 386.3,119.6 393.2,119.9 400.0,120.1 406.9,120.3 413.7,120.5 420.6,120.7 427.4,121.0 434.3,121.2 441.2,121.4 448.1,121.5 454.9,121.7 461.8,121.9 468.7,122.1 475.6,122.3 482.5,122.5 489.4,122.7 496.3,122.9 503.1,123.0 510.0,123.2 516.9,123.4 523.8,123.6 530.7,123.7 537.6,123.9 544.5,124.1 551.4,124.3 558.3,124.4 565.2,124.6 572.1,124.8 579.0,125.0 585.9,125.2 592.8,125.3 599.6,125.5 606.5,125.7 613.4,125.9 620.3,126.1 627.2,126.3 634.0,126.5 640.9,126.7 647.8,126.9 654.6,127.1 661.5,127.3 668.3,127.6 675.2,127.8 682.0,128.0 688.8,128.3 695.7,128.5 702.5,128.7 709.3,129.0 716.1,129.3 722.9,129.5 729.7,129.8 736.5,130.1 743.3,130.4 750.1,130.7 756.8,131.0 763.6,131.3 770.4,131.6 777.1,131.9 783.8,132.3 790.6,132.6 797.3,133.0 804.0,133.3 810.7,133.7 817.4,134.1 824.0,134.5 830.7,134.9 837.4,135.3 844.0,135.7 850.6,136.2 857.3,136.6 863.9,137.1 870.5,137.5 877.1,138.0 883.6,138.5 890.2,139.0 896.7,139.5 903.3,140.1 909.8,140.6 916.3,141.2 922.8,141.8 929.3,142.4 935.8,143.0 942.2,143.6 948.6,144.2 955.1,144.9 961.5,145.5 967.9,146.2 974.2,146.9 980.6,147.6 986.9,148.4 993.3,149.1 999.6,149.9 1005.9,150.6 1012.1,151.4 1018.4,152.3 1024.6,153.1 1030.8,153.9 1037.0,154.8 1043.2,155.7 1049.4,156.6 1055.5,157.5 1061.7,158.5 1067.8,159.4 1073.9,160.4 1079.9,161.4 1086.0,162.5 1092.0,163.5 1098.0,164.6 1104.0,165.7 1110.0,166.8 1115.9,167.9 1121.8,169.0 1127.7,170.2 1133.6,171.4 1139.4,172.6 1145.3,173.9 1151.1,175.1 1156.9,176.4 1162.6,177.7 1168.4,179.1 1174.1,180.4 1179.8,181.8 1185.4,183.2 1191.1,184.6 1196.7,186.1 1202.3,187.6 1207.8,189.1 1213.4,190.6 1218.9,192.2 1224.4,193.8 1229.8,195.4 1235.3,197.0 1240.7,198.7 1246.0,200.4 1251.4,202.1 1256.7,203.8 1262.0,205.6 1267.3,207.4 1272.5,209.2 1277.7,211.1 1282.9,213.0 1288.1,214.9 1293.2,216.9 1298.3,218.8 1303.4,220.8 1308.4,222.9 1313.4,225.0 1318.4,227.1 1323.3,229.2 1328.2,231.3 1333.1,233.5 1337.9,235.8 1342.8,238.0 1347.5,240.3 1352.3,242.6 1357.0,245.0 1361.7,247.3 1366.4,249.7 1371.0,252.2 1375.6,254.7 1380.2,257.2 1384.7,259.7 1389.2,262.3 1393.7,264.9 1398.1,267.5 1402.5,270.1 1406.9,272.8 1411.3,275.6 1415.6,278.3 1419.9,281.1 1424.2,283.9 1428.4,286.7 1432.6,289.6 1436.8,292.5 1440.9,295.4 1445.0,298.4 1449.1,301.4 1453.1,304.4 1457.1,307.5 1461.1,310.6 1465.1,313.7 1469.0,316.8 1472.9,320.0 1476.8,323.2 1480.6,326.4 1484.4,329.7 1488.2,333.0 1492.0,336.3 1495.7,339.7 1499.4,343.0 1503.0,346.4 1506.7,349.9 1510.3,353.4 1513.8,356.9 1517.4,360.4 1520.9,363.9 1524.4,367.5 1527.8,371.1 1531.3,374.8 1534.7,378.5 1538.0,382.2 1541.4,385.9 1544.7,389.7 1548.0,393.4 1551.2,397.3 1554.4,401.1 1557.6,405.0 1560.8,408.9 1563.9,412.8 1567.0,416.8 1570.1,420.8 1573.2,424.8 1576.2,428.8 1579.2,432.9 1582.2,437.0 1585.1,441.2 1588.0,445.3 1590.9,449.5 1593.7,453.7 1596.6,458.0 1599.4,462.2 1602.1,466.5 1604.9,470.9 1607.6,475.2 1610.3,479.6 1612.9,484.0 1615.6,488.5 1618.2,492.9 1620.7,497.4 1623.3,501.9 1625.8,506.5 1628.3,511.1 1630.8,515.7 1633.2,520.3 1635.6,525.0 1638.0,529.7 1640.4,534.4 1642.7,539.1 1645.0,543.9 1647.3,548.7 1649.5,553.5 1651.7,558.4 1653.9,563.2 1656.1,568.1 1658.3,573.0 1660.4,578.0 1662.5,582.9 1664.6,587.9 1666.7,592.9 1668.7,597.9 1670.8,603.0 1672.8,608.0 1674.8,613.1 1676.7,618.2 1678.7,623.3 1680.7,628.4 1682.6,633.6 1684.5,638.7 1686.4,643.9 1688.3,649.1 1690.2,654.3 1692.1,659.4 1693.9,664.7 1695.8,669.9 1697.6,675.1 1699.5,680.3 1701.3,685.6 1703.1,690.8 1704.9,696.1 1706.7,701.3 1708.5,706.6 1710.3,711.9 1712.1,717.2 1713.9,722.5 1715.6,727.8 1717.4,733.2 1719.1,738.5 1720.8,743.9 1722.5,749.2 1724.2,754.6 1725.8,760.0 1727.5,765.4 1729.1,770.9 1730.7,776.3 1732.3,781.8 1733.9,787.3 1735.5,792.8 1737.0,798.4 1738.5,803.9 1740.0,809.5 1741.5,815.1 1742.9,820.7 1744.3,826.4 1745.7,832.0 1747.1,837.7 1748.5,843.4 1749.8,849.2 1751.2,854.9 1752.5,860.6 1753.8,866.4 1755.1,872.2 1756.4,878.0 1757.7,883.8 1758.9,889.6 1760.2,895.4 1761.4,901.2 1762.7,907.1 1763.9,912.9 1765.1,918.7 1766.4,924.6 1767.6,930.4 1768.8,936.2 1770.1,942.1 1771.3,947.9 1772.5,953.8 1773.8,959.6 1775.0,965.4 1776.2,971.3 1777.5,977.1 1778.7,982.9 1780.0,988.7 1781.2,994.6 1782.4,1000.4 1783.7,1006.2 1784.9,1012.1 1786.1,1017.9 1787.4,1023.8 1788.6,1029.6 1789.8,1035.4 1791.1,1041.3 1792.3,1047.1 1793.5,1053.0 1794.7,1058.8 1795.9,1064.7 1797.1,1070.6 1798.4,1076.4 1799.6,1082.3 1800.8,1088.1 1802.0,1094.0 1803.2,1099.9 1804.4,1105.7 1805.6,1111.6 1806.8,1117.5 1808.0,1123.4 1809.2,1129.2 1810.4,1135.1 1811.6,1141.0 1812.8,1146.9 1814.0,1152.7 1815.1,1158.6 1816.3,1164.5 1817.5,1170.4 1818.7,1176.3 1819.9,1182.1 1821.1,1188.0 1822.3,1193.9 1823.5,1199.8 1824.7,1205.7 1825.9,1211.5 1827.1,1217.4 1828.3,1223.3 1829.5,1229.2 1830.7,1235.0 1831.9,1240.9 1833.1,1246.8 1834.3,1252.7 1835.5,1258.5 1836.7,1264.4 1837.9,1270.3 1839.1,1276.1 1840.3,1282.0 1841.5,1287.8 1842.7,1293.7 1844.0,1299.5 1845.2,1305.3 1846.5,1311.2 1847.7,1317.0 1849.0,1322.8 1850.3,1328.5 1851.6,1334.3 1852.9,1340.1 1854.3,1345.8 1855.6,1351.5 1857.0,1357.2 1858.4,1362.9 1859.8,1368.5 1861.2,1374.2 1862.7,1379.8 1864.2,1385.4 1865.7,1391.0 1867.2,1396.5 1868.7,1402.0 1870.3,1407.5 1871.9,1413.0 1873.6,1418.4 1875.3,1423.8 1877.0,1429.1 1878.7,1434.5 1880.5,1439.8 1882.3,1445.0 1884.1,1450.3 1886.0,1455.4 1887.9,1460.6 1889.9,1465.7 1892.0,1470.7 1894.1,1475.7 1896.3,1480.5 1898.7,1485.2 1901.1,1489.8 1903.7,1494.3 1906.5,1498.6 1909.5,1502.7 1912.7,1506.6 1916.1,1510.3 1919.7,1513.7 1923.6,1516.9 1927.8,1519.7 1932.3,1522.3 1937.1,1524.5 1942.3,1526.4 1947.9,1528.0 1953.8,1529.1 1960.0,1529.8 1966.0,1529.8"/>
<path d="M331.52,124.35 A6.75,6.75 0 0 1 332.07,110.86 Z"/>
<path fill-opacity="0.55" d="M1966.0,1519.40 L2223.0,1519.40 A10.40,10.40 0 0 1 2223.0,1540.20 L1966.0,1540.20 Z"/>
<path fill-opacity="0.45" d="M1966.0,1523.50 L2223.0,1523.50 A6.30,6.30 0 0 1 2223.0,1536.10 L1966.0,1536.10 Z"/>
<path d="M1966.0,1523.05 L1994.0,1527.60 L2223.0,1527.60 A2.20,2.20 0 0 1 2223.0,1532.00 L1994.0,1532.00 L1966.0,1536.55 Z"/>
</g>
<g id="ticks" stroke="#000" stroke-width="4.6" fill="none">
<line x1="328.1" y1="1601.0" x2="328.1" y2="1623.5"/>
<line x1="567.0" y1="1601.0" x2="567.0" y2="1623.5"/>
<line x1="802.2" y1="1601.0" x2="802.2" y2="1623.5"/>
<line x1="1037.9" y1="1601.0" x2="1037.9" y2="1623.5"/>
<line x1="1277.1" y1="1601.0" x2="1277.1" y2="1623.5"/>
<line x1="1512.1" y1="1601.0" x2="1512.1" y2="1623.5"/>
<line x1="1751.3" y1="1601.0" x2="1751.3" y2="1623.5"/>
<line x1="1986.6" y1="1601.0" x2="1986.6" y2="1623.5"/>
<line x1="2222.6" y1="1601.0" x2="2222.6" y2="1623.5"/>
<line x1="235.4" y1="117.8" x2="212.9" y2="117.8"/>
<line x1="235.4" y1="399.3" x2="212.9" y2="399.3"/>
<line x1="235.4" y1="680.8" x2="212.9" y2="680.8"/>
<line x1="235.4" y1="966.5" x2="212.9" y2="966.5"/>
<line x1="235.4" y1="1248.0" x2="212.9" y2="1248.0"/>
<line x1="235.4" y1="1529.6" x2="212.9" y2="1529.6"/>
</g>
<g id="xticklabels" text-anchor="middle">
<text x="328.1" y="1687.0">0.800</text>
<text x="567.0" y="1687.0">0.825</text>
<text x="802.2" y="1687.0">0.850</text>
<text x="1037.9" y="1687.0">0.875</text>
<text x="1277.1" y="1687.0">0.900</text>
<text x="1512.1" y="1687.0">0.925</text>
<text x="1751.3" y="1687.0">0.950</text>
<text x="1986.6" y="1687.0">0.975</text>
<text x="2222.6" y="1687.0">1.000</text>
</g>
<g id="yticklabels" text-anchor="end">
<text x="193.5" y="136.8">1.0</text>
<text x="193.5" y="418.3">0.8</text>
<text x="193.5" y="704.1">0.6</text>
<text x="193.5" y="985.7">0.4</text>
<text x="193.5" y="1271.3">0.2</text>
<text x="193.5" y="1553.2">0.0</text>
</g>
<text id="xlabel" x="1279" y="1766.5" text-anchor="middle">f</text>
<text id="ylabel" transform="translate(61,828) rotate(-90)" text-anchor="middle">S</text>
<rect id="frame" x="235.4" y="50.2" width="2083.8" height="1550.8" fill="none" stroke="#000" stroke-width="4.6" stroke-linejoin="miter"/>
<g id="legend">
<rect x="1592.5" y="79.9" width="697.3" height="280.8" rx="5.5" ry="5.5" fill="#ffffff" fill-opacity="0.8" stroke="#cccccc" stroke-opacity="0.85" stroke-width="5.2"/>
<circle cx="1672.2" cy="130.2" r="7.6" fill="#000000"/>
<text x="1774.0" y="144.9">r=0</text>
<circle cx="1672.2" cy="218.3" r="7.6" fill="#0000ff"/>
<text x="1774.0" y="232.9">k-shell, (r=0.8)</text>
<circle cx="1672.2" cy="306.4" r="7.6" fill="#ff0000"/>
<text x="1774.0" y="321.0">k-sorted, (r=0.8)</text>
</g>
</g>
</svg>
</body></html>
